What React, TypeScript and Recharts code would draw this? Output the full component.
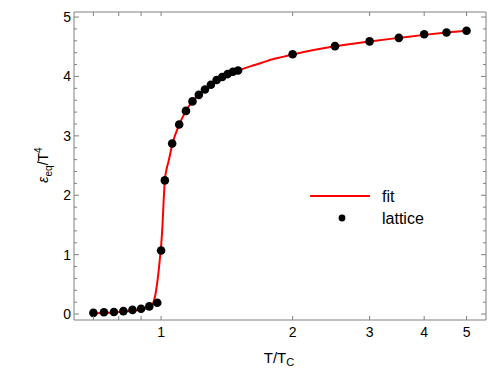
import { ComposedChart, Line, Scatter, XAxis, YAxis, Legend } from 'recharts';

// lattice points (T/Tc, energy density / T^4)
const latticeT = [
  0.7, 0.74, 0.78, 0.82, 0.86, 0.9, 0.94, 0.98, 1.0, 1.02, 1.06, 1.1, 1.14, 1.18,
  1.22, 1.26, 1.3, 1.34, 1.38, 1.42, 1.46, 1.5, 2.0, 2.5, 3.0, 3.5, 4.0, 4.5, 5.0,
];
const latticeE = [
  0.02, 0.03, 0.035, 0.05, 0.07, 0.09, 0.13, 0.19, 1.07, 2.25, 2.87, 3.19, 3.42, 3.58,
  3.69, 3.78, 3.86, 3.94, 3.99, 4.04, 4.08, 4.1, 4.375, 4.51, 4.59, 4.65, 4.71, 4.74, 4.77,
];

// fit curve
const fitT = [
  0.7, 0.75, 0.8, 0.85, 0.9, 0.93, 0.95, 0.96, 0.97, 0.977, 0.986, 0.993, 1.0, 1.007,
  1.013, 1.02, 1.03, 1.04, 1.062, 1.1, 1.14, 1.18, 1.22, 1.26, 1.3, 1.35, 1.4, 1.45,
  1.5, 1.6, 1.7, 1.8, 1.9, 2.0, 2.25, 2.5, 3.0, 3.5, 4.0, 4.5, 5.0,
];
const fitE = [
  0.01, 0.02, 0.035, 0.05, 0.075, 0.1, 0.14, 0.19, 0.32, 0.46, 0.69, 0.91, 1.14, 1.47,
  1.87, 2.25, 2.45, 2.57, 2.87, 3.19, 3.42, 3.58, 3.69, 3.78, 3.86, 3.94, 4.0, 4.06,
  4.1, 4.17, 4.23, 4.29, 4.33, 4.37, 4.45, 4.51, 4.59, 4.65, 4.7, 4.74, 4.77,
];

const xTicks = [0.7, 0.8, 0.9, 1, 2, 3, 4, 5];
const xLabels = [1, 2, 3, 4, 5];
const yTicks = [
  0, 0.2, 0.4, 0.6, 0.8, 1, 1.2, 1.4, 1.6, 1.8, 2, 2.2, 2.4, 2.6, 2.8, 3,
  3.2, 3.4, 3.6, 3.8, 4, 4.2, 4.4, 4.6, 4.8, 5,
];

const lattice = latticeT.map((T, i) => ({ T, E: latticeE[i] }));
const fit = fitT.map((T, i) => ({ T, E: fitE[i] }));

const FRAME = '#808080';
const FONT = '"Liberation Sans", Arial, sans-serif';

const BottomTick = (props: any) => {
  const { x, y, payload } = props;
  const labeled = xLabels.includes(payload.value);
  return (
    <g>
      <line x1={x} y1={y} x2={x} y2={y - 4} stroke={FRAME} strokeWidth={1} />
      {labeled && (
        <text x={x} y={y + 17} textAnchor="middle" fontSize={14} fontFamily={FONT} fill="#000">
          {payload.value}
        </text>
      )}
    </g>
  );
};

const TopTick = (props: any) => {
  const { x, y } = props;
  return <line x1={x} y1={y} x2={x} y2={y + 4} stroke={FRAME} strokeWidth={1} />;
};

const LeftTick = (props: any) => {
  const { x, y, payload } = props;
  const major = Number.isInteger(payload.value);
  return (
    <g>
      <line x1={x} y1={y} x2={x + (major ? 5 : 3)} y2={y} stroke={FRAME} strokeWidth={1} />
      {major && (
        <text x={x - 3} y={y + 5} textAnchor="end" fontSize={14} fontFamily={FONT} fill="#000">
          {payload.value}
        </text>
      )}
    </g>
  );
};

const RightTick = (props: any) => {
  const { x, y, payload } = props;
  const major = Number.isInteger(payload.value);
  return <line x1={x} y1={y} x2={x - (major ? 5 : 3)} y2={y} stroke={FRAME} strokeWidth={1} />;
};

const LegendBox = () => (
  <svg width={130} height={46}>
    <line x1={10} y1={12} x2={70} y2={12} stroke="#ff0000" strokeWidth={2} />
    <text x={82} y={17.5} fontSize={16} fontFamily={FONT} fill="#000">fit</text>
    <circle cx={42} cy={34} r={3.4} fill="#000" />
    <text x={82} y={39.5} fontSize={16} fontFamily={FONT} fill="#000">lattice</text>
  </svg>
);

const axisLine = { stroke: FRAME, strokeWidth: 1 };

export default function App() {
  return (
    <div style={{ position: 'absolute', left: 0, top: 0, width: 498, height: 383, background: '#fff' }}>
      <ComposedChart width={498} height={383} margin={{ top: 0, right: 0, bottom: 0, left: 0 }}>
        <XAxis
          xAxisId="b"
          dataKey="T"
          type="number"
          scale="log"
          domain={[0.632, 5.54]}
          allowDataOverflow
          ticks={xTicks}
          interval={0}
          height={63}
          tickSize={0}
          tickMargin={0}
          axisLine={axisLine}
          tick={<BottomTick />}
        />
        <XAxis
          xAxisId="t"
          orientation="top"
          dataKey="T"
          type="number"
          scale="log"
          domain={[0.632, 5.54]}
          allowDataOverflow
          ticks={xTicks}
          interval={0}
          height={12}
          tickSize={0}
          tickMargin={0}
          axisLine={axisLine}
          tick={<TopTick />}
        />
        <YAxis
          yAxisId="l"
          dataKey="E"
          type="number"
          domain={[-0.1, 5.085]}
          allowDataOverflow
          ticks={yTicks}
          interval={0}
          width={74}
          tickSize={0}
          tickMargin={0}
          axisLine={axisLine}
          tick={<LeftTick />}
        />
        <YAxis
          yAxisId="r"
          orientation="right"
          dataKey="E"
          type="number"
          domain={[-0.1, 5.085]}
          allowDataOverflow
          ticks={yTicks}
          interval={0}
          width={12}
          tickSize={0}
          tickMargin={0}
          axisLine={axisLine}
          tick={<RightTick />}
        />
        <Line
          xAxisId="t"
          yAxisId="r"
          data={fit}
          dataKey="E"
          stroke="none"
          dot={false}
          legendType="none"
          isAnimationActive={false}
        />
        <Line
          xAxisId="b"
          yAxisId="l"
          data={fit}
          dataKey="E"
          type="monotone"
          stroke="#ff0000"
          strokeWidth={2}
          dot={false}
          isAnimationActive={false}
        />
        <Scatter
          xAxisId="b"
          yAxisId="l"
          data={lattice}
          fill="#000"
          shape={(p: any) => <circle cx={p.cx} cy={p.cy} r={4.3} fill="#000" />}
          isAnimationActive={false}
        />
        <Legend
          layout="vertical"
          align="center"
          verticalAlign="middle"
          content={<LegendBox />}
          wrapperStyle={{ position: 'absolute', left: 300, top: 184, width: 130, height: 46 }}
        />
      </ComposedChart>
      <svg
        width={498}
        height={383}
        style={{ position: 'absolute', left: 0, top: 0, pointerEvents: 'none' }}
      >
        <text
          transform="translate(48,165) rotate(-90)"
          textAnchor="middle"
          fontSize={14}
          fontFamily={FONT}
          fill="#000"
        >
          <tspan fontStyle="italic">ε</tspan>
          <tspan fontSize={10} dy={4}>eq</tspan>
          <tspan dy={-4}>/T</tspan>
          <tspan fontSize={10} dy={-6}>4</tspan>
        </text>
        <text x={279} y={363} textAnchor="middle" fontSize={15} fontFamily={FONT} fill="#000">
          T/T<tspan fontSize={11} dy={3}>C</tspan>
        </text>
      </svg>
    </div>
  );
}
